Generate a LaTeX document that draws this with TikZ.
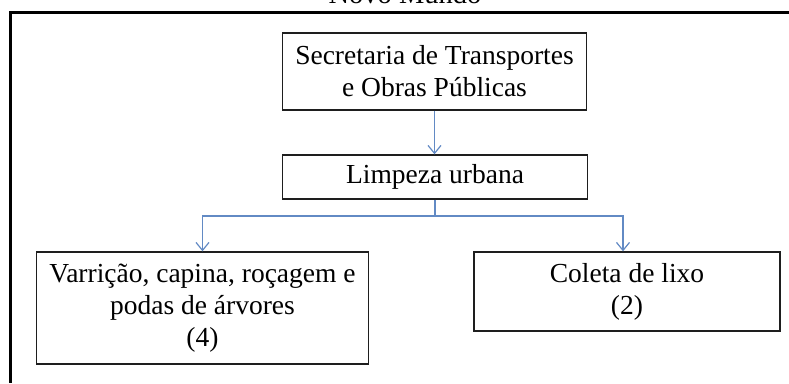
\documentclass[tikz,border=0pt]{standalone}
\usepackage{fontspec}
\setmainfont{Liberation Serif}
\usetikzlibrary{arrows.meta,calc}
\definecolor{arrowblue}{RGB}{98,138,196}
\definecolor{boxline}{RGB}{30,30,30}
\tikzset{
  box/.style={draw=boxline, line width=1.3pt, align=center, inner sep=0pt,
    font=\fontsize{27.5}{32}\selectfont},
  arr/.style={draw=arrowblue, line width=1.4pt, -{Straight Barb[length=8pt,width=13pt,line width=1.2pt]}},
  link/.style={draw=arrowblue, line width=1.4pt}
}
\begin{document}
\begin{tikzpicture}[x=1pt,y=-1pt]
\useasboundingbox (0,0) rectangle (789,383);
% outer frame (cropped on right and bottom)
\draw[line width=2.6pt] (789,12.5) -- (10.5,12.5) -- (10.5,383);
% title (cropped at top)
\node[anchor=base, font=\fontsize{28.5}{32}\selectfont, inner sep=0pt] (title) at (405,3) {Novo Mundo};
% boxes
\node[box, minimum width=304pt, minimum height=77pt] (top) at (434.5,71.5)
  {Secretaria de Transportes\\e Obras Públicas};
\node[box, minimum width=305pt, minimum height=44pt] (limp) at (435,177)
  {Limpeza urbana};
\node[box, minimum width=332pt, minimum height=112pt] (left) at (202.5,308)
  {Varrição, capina, roçagem e\\podas de árvores\\(4)};
\node[box, minimum width=306pt, minimum height=79pt] (right) at (627,291.5)
  {Coleta de lixo\\(2)};
% connectors
\draw[arr] (top.south) -- (top.south |- limp.north);
\coordinate (br) at (435,216);
\draw[link] (limp.south -| br) -- (br);
\draw[arr] (br) -| (left.north);
\draw[arr] (br) -| ($(right.north)+(-4,0)$);
\end{tikzpicture}
\end{document}
